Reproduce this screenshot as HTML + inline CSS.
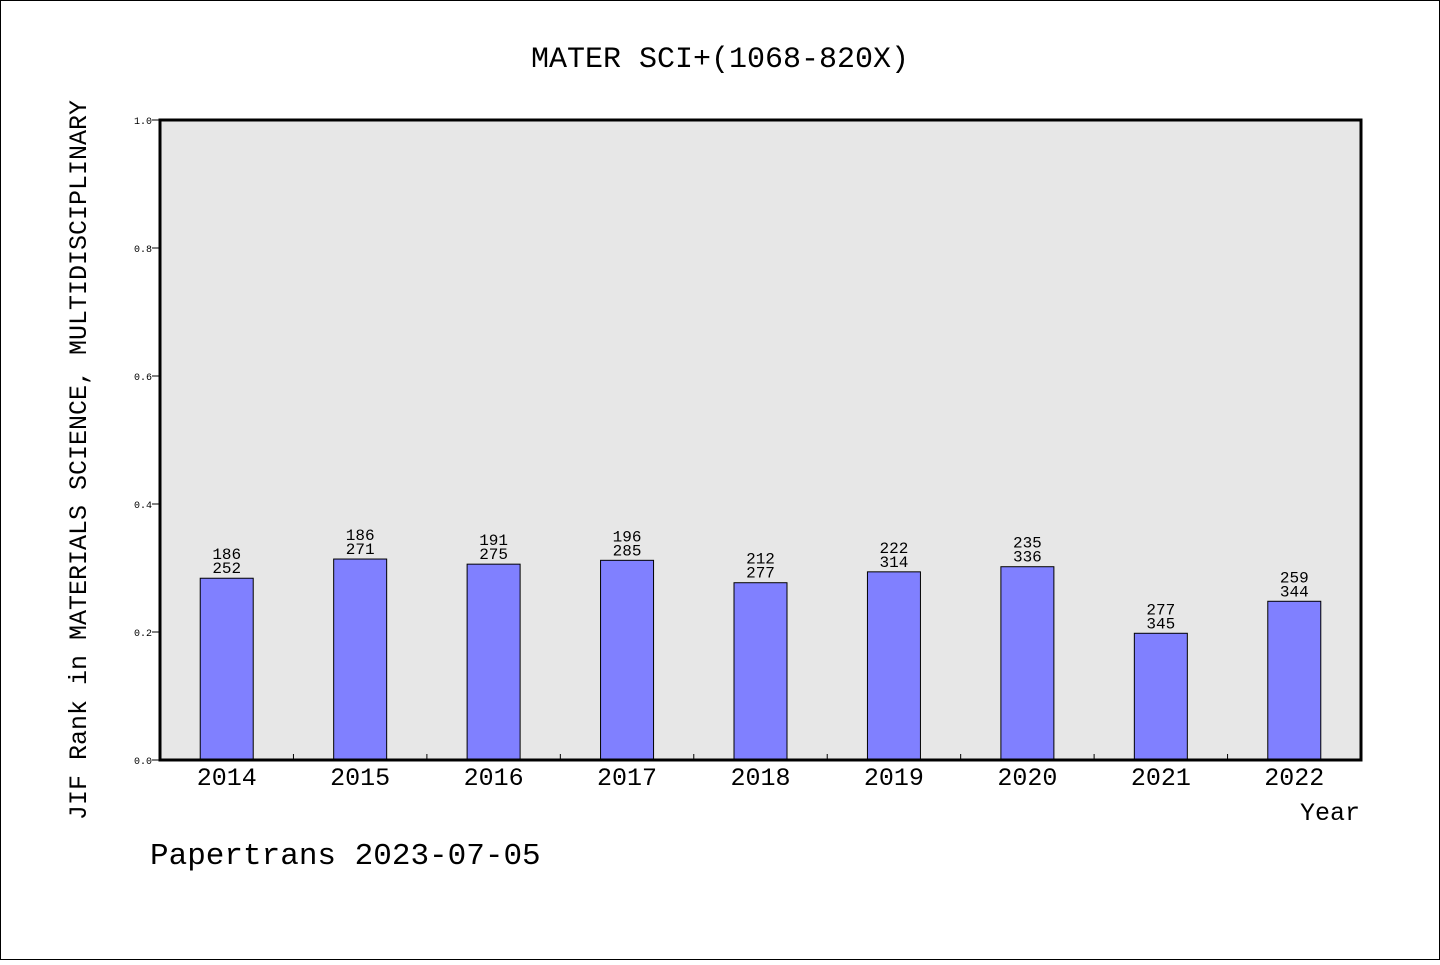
<!DOCTYPE html>
<html><head><meta charset="utf-8"><style>
body{margin:0;background:#fff}
svg text{font-family:"Liberation Mono","DejaVu Sans Mono",monospace;fill:#000}
</style></head><body>
<svg id="c" width="1440" height="960" xmlns="http://www.w3.org/2000/svg">
<rect x="0.5" y="0.5" width="1439" height="959" fill="#fff" stroke="#000"/>
<text x="720" y="67" font-size="30" text-anchor="middle">MATER SCI+(1068-820X)</text>
<rect x="160" y="120" width="1201" height="640" fill="#e7e7e7"/>
<g id="bars"></g>
<rect x="160" y="120" width="1201" height="640" fill="none" stroke="#000" stroke-width="3"/>
<text transform="translate(86,460) rotate(-90)" font-size="25" text-anchor="middle">JIF Rank in MATERIALS SCIENCE, MULTIDISCIPLINARY</text>
<text x="1360" y="820" font-size="25" text-anchor="end">Year</text>
<text x="150" y="864" font-size="31">Papertrans 2023-07-05</text>
</svg>
<script>
const years=["2014","2015","2016","2017","2018","2019","2020","2021","2022"];
const values=[0.284,0.314,0.306,0.312,0.277,0.294,0.302,0.198,0.248];
const ranks=["186","186","191","196","212","222","235","277","259"];
const totals=["252","271","275","285","277","314","336","345","344"];
const yTicks=[0,0.2,0.4,0.6,0.8,1.0];
const X0=160,W=1201,Y0=760,H=640;
const step=W/years.length;
const xs=i=>X0+step*(i+0.5);
const ys=v=>Y0-v*H;
const NS="http://www.w3.org/2000/svg";
const g=document.getElementById('bars');
function mk(t,a){const e=document.createElementNS(NS,t);for(const k in a)e.setAttribute(k,a[k]);g.appendChild(e);return e;}
yTicks.forEach(t=>{
 const l=mk('line',{x1:X0-8,x2:X0,y1:ys(t),y2:ys(t),stroke:'#000'});
 
 
 const tx=mk('text',{x:X0-8,y:ys(t)+4,'font-size':10,'text-anchor':'end'});
 tx.textContent=t.toFixed(1);
 
 
});
years.forEach((y,i)=>{
 if(i>0){const l=mk('line',{x1:X0+step*i,x2:X0+step*i,y1:Y0,y2:Y0-6,stroke:'#000'});
 
 }
 const b=mk('rect',{x:xs(i)-26.5,y:ys(values[i]),width:53,height:values[i]*H,fill:'#8080ff',stroke:'#000','stroke-width':1});
 
 
 const t1=mk('text',{x:xs(i),y:ys(values[i])-19,'font-size':16,'text-anchor':'middle'});
 t1.textContent=ranks[i];
 
 
 const t2=mk('text',{x:xs(i),y:ys(values[i])-5,'font-size':16,'text-anchor':'middle'});
 t2.textContent=totals[i];
 
 
 const xl=mk('text',{x:xs(i),y:785,'font-size':25,'text-anchor':'middle'});
 xl.textContent=y;
 
 
});
</script>
</body></html>
